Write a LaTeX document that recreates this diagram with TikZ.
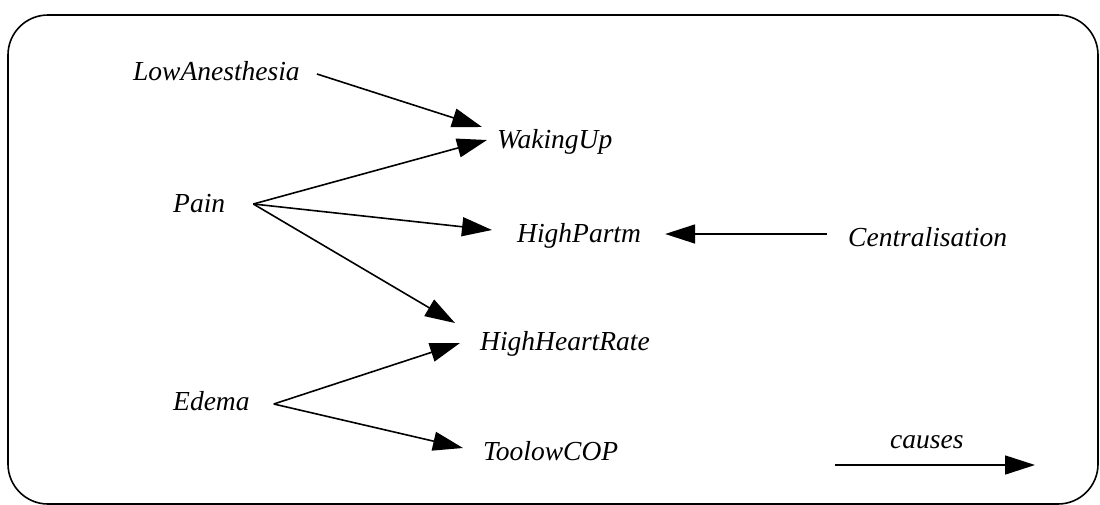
\documentclass[tikz,border=0pt]{standalone}
\usepackage{fontspec}
\setmainfont{Liberation Serif}
\usetikzlibrary{arrows.meta}
\begin{document}
\begin{tikzpicture}[x=1pt,y=-1pt,
  lbl/.style={font=\fontsize{27.5}{32}\selectfont\itshape, inner sep=0pt, anchor=base west},
  cause/.style={line width=1.6pt, -{Triangle[length=30pt,width=19pt]}},
  frame/.style={line width=1.6pt, rounded corners=40pt}]
\useasboundingbox (0,0) rectangle (1100,504);
\draw[frame] (8,15) rectangle (1098,504);
\node[lbl] (la) at (133,80) {LowAnesthesia};
\node[lbl] (wu) at (497,148) {WakingUp};
\node[lbl] (pa) at (173,212) {Pain};
\node[lbl] (hp) at (517,242) {HighPartm};
\node[lbl] (ce) at (848,246) {Centralisation};
\node[lbl] (hh) at (480,350) {HighHeartRate};
\node[lbl] (ed) at (173,410) {Edema};
\node[lbl] (tc) at (483,460) {ToolowCOP};
\node[lbl] (cl) at (890,448) {causes};
\coordinate (k1) at (835,465);
\coordinate (k2) at (1035,465);
\draw[cause] ([shift={(17,-6)}]la.base east) -- ([shift={(-15,-21)}]wu.base west);
\draw[cause] ([shift={(28,-8)}]pa.base east) -- ([shift={(-10,-8)}]wu.base west);
\draw[cause] ([shift={(28,-8)}]pa.base east) -- ([shift={(-25,-12)}]hp.base west);
\draw[cause] ([shift={(28,-8)}]pa.base east) -- ([shift={(-25,-27)}]hh.base west);
\draw[cause] ([shift={(-21,-12)}]ce.base west) -- ([shift={(24,-8)}]hp.base east);
\draw[cause] ([shift={(24,-6)}]ed.base east) -- ([shift={(-20,-7)}]hh.base west);
\draw[cause] ([shift={(24,-6)}]ed.base east) -- ([shift={(-20,-12)}]tc.base west);
\draw[cause] (k1) -- (k2);
\end{tikzpicture}
\end{document}
